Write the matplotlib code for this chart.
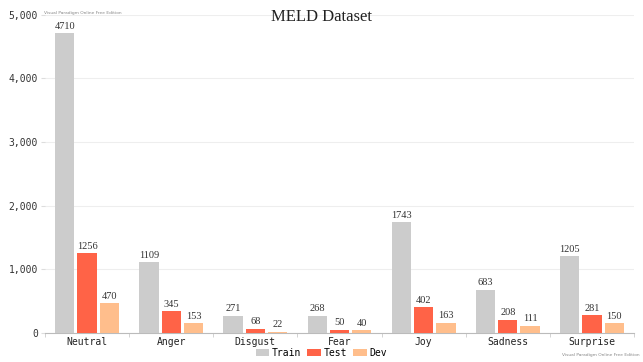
import numpy as np
import matplotlib.pyplot as plt
from matplotlib.patches import Patch

# data
categories = ['Neutral', 'Anger', 'Disgust', 'Fear', 'Joy', 'Sadness', 'Surprise']
train = [4710, 1109, 271, 268, 1743, 683, 1205]
test = [1256, 345, 68, 50, 402, 208, 281]
dev = [470, 153, 22, 40, 163, 111, 150]
series_names = ['Train', 'Test', 'Dev']
colors = ['#cccccc', '#ff6347', '#ffbe8c']

mono = 'DejaVu Sans Mono'
serif = 'Liberation Serif'

fig = plt.figure(figsize=(6.43, 3.62), dpi=100)
ax = fig.add_axes([0.070, 0.080, 0.916, 0.879])

x = np.arange(len(categories))
w = 0.23
step = 0.265
for i, (vals, col) in enumerate(zip([train, test, dev], colors)):
    pos = x + (i - 1) * step
    ax.bar(pos, vals, width=w, color=col, zorder=3)
    for p, v in zip(pos, vals):
        ax.text(p, v + 40, str(v), ha='center', va='bottom', fontsize=7.5,
                family=serif, color='#333333', zorder=4)

ax.set_xlim(-0.5, len(categories) - 0.5)
ax.set_ylim(0, 5000)
ax.set_yticks(np.arange(0, 5001, 1000))
ax.set_yticklabels([f'{v:,}' for v in range(0, 5001, 1000)], family=mono,
                   fontsize=7, color='#333333')
ax.set_xticks(x)
ax.set_xticklabels(categories, family=mono, fontsize=7, color='#222222')
ax.set_xticks(np.arange(-0.5, len(categories), 1), minor=True)
ax.tick_params(axis='x', which='major', length=0, pad=3)
ax.tick_params(axis='x', which='minor', length=3, color='#cccccc')
ax.tick_params(axis='y', length=3, color='#dddddd', pad=2)

ax.grid(axis='y', color='#eeeeee', linewidth=0.8, zorder=0)
for s in ['top', 'right', 'left']:
    ax.spines[s].set_visible(False)
ax.spines['bottom'].set_color('#bbbbbb')

fig.text(0.5, 0.952, 'MELD Dataset', ha='center', va='center', fontsize=12,
         family=serif, color='#222222')

handles = [Patch(facecolor=c, edgecolor='none') for c in colors]
fig.legend(handles, series_names, loc='center', bbox_to_anchor=(0.5, 0.025),
           ncol=3, frameon=False, prop={'family': mono, 'size': 7},
           handlelength=1.4, handleheight=0.8, handletextpad=0.3,
           columnspacing=0.6)

fig.text(0.068, 0.965, 'Visual Paradigm Online Free Edition', fontsize=3.2,
         color='#888888', va='center')
fig.text(0.995, 0.018, 'Visual Paradigm Online Free Edition', fontsize=3.2,
         color='#888888', ha='right', va='center')

fig.savefig('out.png', dpi=100, facecolor='white')
